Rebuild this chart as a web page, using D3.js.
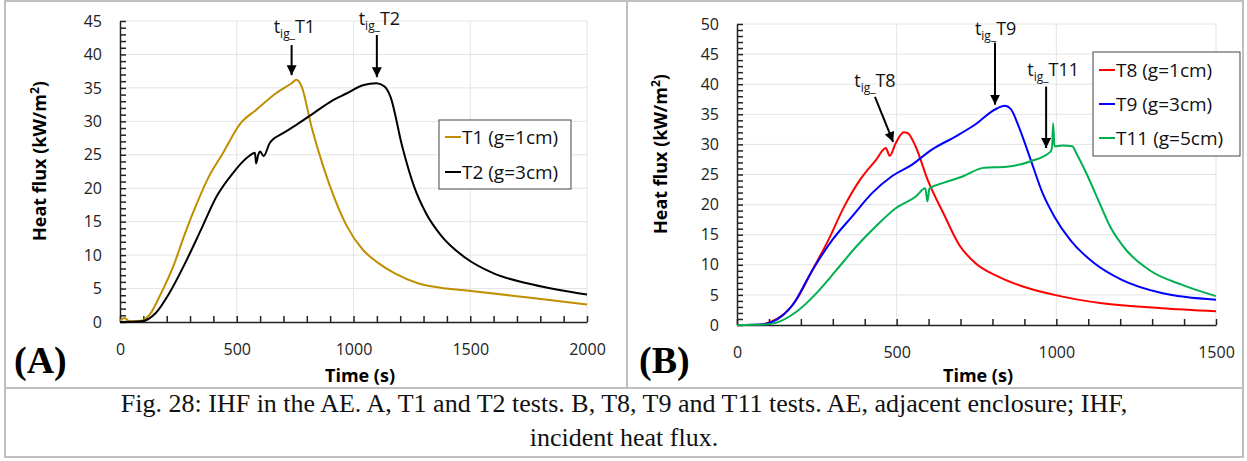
<!DOCTYPE html>
<html>
<head>
<meta charset="utf-8">
<script src="https://cdn.jsdelivr.net/npm/d3@7"></script>
<style>
body { margin: 0; background: #fff; }
</style>
</head>
<body>
<svg id="fig" width="1247" height="461" style="font-family:'Open Sans',sans-serif"></svg>
<script>
// panel A: time (s), heat flux (kW/m2)
var t1 = [[0,0.2],[20,0.6],[40,0.1],[90,0.2],[127,1.1],[169,3.8],[228,8.3],[279,13.3],[330,17.8],[380,21.7],[440,25.2],[516,29.7],[583,31.7],[668,34.2],[735,35.7],[756,36.2],[778,35.2],[820,29.2],[871,23.2],[921,18.3],[972,14.3],[1040,10.8],[1107,8.8],[1175,7.3],[1276,5.8],[1400,5.0],[1513,4.6],[1767,3.6],[2000,2.6]];
var t2 = [[0,0],[93,0.1],[152,1.3],[211,4.3],[279,8.8],[347,13.8],[414,18.8],[482,22.2],[549,24.7],[578,25.3],[583,23.7],[592,25.0],[600,25.5],[615,24.8],[642,26.8],[702,28.3],[752,29.4],[820,31],[904,33],[972,34.2],[1040,35.4],[1099,35.7],[1133,35.2],[1158,33.7],[1209,26.2],[1260,20.2],[1310,16.3],[1378,12.8],[1479,9.6],[1598,7.3],[1767,5.6],[2000,4.1]];

// panel B
var t8 = [[0,0],[80,0.1],[99,0.4],[149,1.9],[186,4.2],[236,9.1],[286,14.1],[336,19.7],[385,24.1],[435,27.4],[466,29.4],[478,28.1],[497,30.2],[522,32],[534,31.9],[559,29.7],[597,24.1],[646,18.6],[696,13.3],[746,10.3],[820,8.0],[895,6.4],[994,5.0],[1143,3.6],[1330,2.8],[1500,2.3]];
var t9 = [[0,0],[80,0.1],[112,0.55],[174,3.3],[236,9.1],[298,14.1],[360,18.0],[423,21.9],[485,24.7],[547,26.6],[609,29.1],[684,31.3],[746,33.3],[808,35.8],[839,36.4],[857,35.9],[882,33.0],[920,27.4],[957,21.9],[994,18.0],[1044,14.1],[1118,10.3],[1205,7.5],[1330,5.3],[1500,4.2]];
var t11 = [[0,0],[90,0.1],[124,0.4],[186,2.2],[249,5.3],[311,9.1],[373,13.0],[435,16.4],[497,19.4],[559,21.3],[590,22.7],[596,20.5],[603,22.7],[646,23.6],[708,24.7],[771,26.1],[845,26.3],[920,27.2],[982,28.8],[987,29.7],[990,33.5],[994,29.7],[1019,29.8],[1050,29.7],[1063,28.5],[1094,25.2],[1131,20.8],[1168,16.4],[1218,12.5],[1292,9.1],[1392,6.7],[1500,4.8]];

var labelsA = ["T1 (g=1cm)", "T2 (g=3cm)"];
var labelsB = ["T8 (g=1cm)", "T9 (g=3cm)", "T11 (g=5cm)"];

// ignition markers: name, text anchor (t, q), arrow start, arrow end
var igA = [
  {name: "T1", text: [747, 43.2], from: [735, 41.4], to: [735, 36.9]},
  {name: "T2", text: [1111, 44.4], from: [1100, 42.9], to: [1100, 36.6]}
];
var igB = [
  {name: "T8", text: [432, 39.6], from: [432, 37.9], to: [489, 30.4]},
  {name: "T9", text: [810, 48.2], from: [808, 46.9], to: [808, 36.6]},
  {name: "T11", text: [990, 41.4], from: [968, 39.6], to: [968, 29.4]}
];

var svg = d3.select("#fig");

svg.append("defs").append("marker")
    .attr("id", "arr")
    .attr("viewBox", "0 0 10 10")
    .attr("refX", 10).attr("refY", 5)
    .attr("markerUnits", "userSpaceOnUse")
    .attr("markerWidth", 10).attr("markerHeight", 10)
    .attr("orient", "auto")
  .append("path")
    .attr("d", "M0,0L10,5L0,10z")
    .attr("fill", "#000");

// frame
svg.append("rect")
    .attr("x", 5).attr("y", 1).attr("width", 1238).attr("height", 456)
    .attr("fill", "none").attr("stroke", "#bfbfbf").attr("stroke-width", 2);
svg.append("line").attr("x1", 627).attr("x2", 627).attr("y1", 1).attr("y2", 388)
    .attr("stroke", "#bfbfbf").attr("stroke-width", 2);
svg.append("line").attr("x1", 5).attr("x2", 1243).attr("y1", 388).attr("y2", 388)
    .attr("stroke", "#bfbfbf").attr("stroke-width", 2);

function panel(o) {
  var g = svg.append("g");
  var x = d3.scaleLinear().domain([0, o.xmax]).range(o.xr);
  var y = d3.scaleLinear().domain([0, o.ymax]).range(o.yr);

  // gridlines
  g.append("g").selectAll("line")
    .data(d3.range(5, o.ymax + 1, 5))
    .join("line")
      .attr("x1", x(0)).attr("x2", x(o.xmax))
      .attr("y1", d => y(d)).attr("y2", d => y(d))
      .attr("stroke", "#e4e4e4");
  g.append("g").selectAll("line")
    .data(d3.range(500, o.xmax + 1, 500))
    .join("line")
      .attr("x1", d => x(d)).attr("x2", d => x(d))
      .attr("y1", y(0)).attr("y2", y(o.ymax))
      .attr("stroke", "#e4e4e4");

  // minor ticks
  g.append("g")
      .attr("transform", "translate(0," + y(0) + ")")
      .call(d3.axisBottom(x).tickValues(d3.range(0, o.xmax + 1, 100)).tickSize(-6).tickSizeOuter(0).tickFormat(""))
      .call(a => a.selectAll("line,path").attr("stroke", "#222").attr("stroke-width", 1.5));
  g.append("g")
      .attr("transform", "translate(" + x(0) + ",0)")
      .call(d3.axisRight(y).tickValues(d3.range(0, o.ymax + 1, 1)).tickSize(6).tickSizeOuter(0).tickFormat(""))
      .call(a => a.selectAll("line,path").attr("stroke", "#222").attr("stroke-width", 1.5));

  // labels
  g.append("g")
      .attr("transform", "translate(0," + y(0) + ")")
      .call(d3.axisBottom(x).tickValues(d3.range(0, o.xmax + 1, 500)).tickSize(0).tickPadding(22).tickFormat(d3.format("d")))
      .call(a => a.select(".domain").remove())
      .selectAll("text").attr("fill", "#222").style("font-size", "16px").style("font-family", "'Open Sans'");
  g.append("g")
      .attr("transform", "translate(" + x(0) + ",0)")
      .call(d3.axisLeft(y).tickValues(d3.range(0, o.ymax + 1, 5)).tickSize(0).tickPadding(18).tickFormat(d3.format("d")))
      .call(a => a.select(".domain").remove())
      .selectAll("text").attr("fill", "#222").style("font-size", "16px").style("font-family", "'Open Sans'");

  var line = d3.line()
      .x(d => x(d[0]))
      .y(d => y(d[1]))
      .curve(d3.curveMonotoneX);

  o.series.forEach(function(s) {
    g.append("path")
        .datum(s.data)
        .attr("d", line)
        .attr("fill", "none")
        .attr("stroke", s.color)
        .attr("stroke-width", 2)
        .attr("stroke-linejoin", "round");
  });

  // ignition arrows
  o.ig.forEach(function(a) {
    g.append("line")
        .attr("x1", x(a.from[0])).attr("y1", y(a.from[1]))
        .attr("x2", x(a.to[0])).attr("y2", y(a.to[1]))
        .attr("stroke", "#000").attr("stroke-width", 2)
        .attr("marker-end", "url(#arr)");
    var t = g.append("text")
        .attr("x", x(a.text[0])).attr("y", y(a.text[1]))
        .attr("text-anchor", "middle")
        .attr("font-size", 18).attr("fill", "#111");
    t.append("tspan").text("t");
    t.append("tspan").attr("font-size", 12).attr("dy", 5).text("ig_");
    t.append("tspan").attr("dy", -5).text(a.name);
  });

  // axis titles
  g.append("text")
      .attr("x", o.xtitle[0]).attr("y", o.xtitle[1])
      .attr("text-anchor", "middle")
      .attr("font-size", 18).attr("font-weight", "bold")
      .text("Time (s)");
  var yt = g.append("text")
      .attr("transform", "translate(" + o.ytitle[0] + "," + o.ytitle[1] + ") rotate(-90)")
      .attr("text-anchor", "middle")
      .attr("font-size", 18).attr("font-weight", "bold");
  yt.append("tspan").text("Heat flux (kW/m");
  yt.append("tspan").attr("font-size", 12).attr("dy", -7).text("2");
  yt.append("tspan").attr("dy", 7).text(")");

  // panel letter
  g.append("text")
      .attr("x", o.letter[0]).attr("y", o.letter[1])
      .style("font-family", "'Liberation Serif', serif")
      .attr("font-size", 38).attr("font-weight", "bold")
      .text(o.name);

  // legend
  var lg = g.append("g").attr("transform", "translate(" + o.legend[0] + "," + o.legend[1] + ")");
  lg.append("rect")
      .attr("width", o.legend[2]).attr("height", o.legend[3])
      .attr("fill", "#fff").attr("stroke", "#444").attr("stroke-width", 1);
  o.series.forEach(function(s, i) {
    var yy = o.legend[4] + i * o.legend[5];
    lg.append("line")
        .attr("x1", 6).attr("x2", 22).attr("y1", yy).attr("y2", yy)
        .attr("stroke", s.color).attr("stroke-width", 2);
    lg.append("text")
        .attr("x", 23).attr("y", yy).attr("dy", "0.35em")
        .attr("font-size", 19).attr("fill", "#111")
        .text(s.label);
  });
}

panel({
  name: "(A)",
  xmax: 2000, ymax: 45,
  xr: [120, 587], yr: [322, 21],
  series: [
    {data: t1, color: "#bf8f00", label: labelsA[0]},
    {data: t2, color: "#000000", label: labelsA[1]}
  ],
  ig: igA,
  xtitle: [360, 382], ytitle: [46, 161],
  letter: [14, 373],
  legend: [439, 120, 132, 69, 17, 35]
});

panel({
  name: "(B)",
  xmax: 1500, ymax: 50,
  xr: [737, 1216], yr: [325, 24],
  series: [
    {data: t8, color: "#ff0000", label: labelsB[0]},
    {data: t9, color: "#0000ff", label: labelsB[1]},
    {data: t11, color: "#00b050", label: labelsB[2]}
  ],
  ig: igB,
  xtitle: [978, 382], ytitle: [667, 154],
  letter: [639, 373],
  legend: [1093, 52, 147, 104, 18, 34]
});

// caption
var cap = svg.append("text")
    .attr("text-anchor", "middle")
    .style("font-family", "'Liberation Serif', serif")
    .attr("font-size", 26)
    .attr("fill", "#111");
cap.append("tspan").attr("x", 624).attr("y", 412)
    .text("Fig. 28: IHF in the AE. A, T1 and T2 tests. B, T8, T9 and T11 tests. AE, adjacent enclosure; IHF,");
cap.append("tspan").attr("x", 624).attr("y", 446)
    .text("incident heat flux.");
</script>
</body>
</html>
